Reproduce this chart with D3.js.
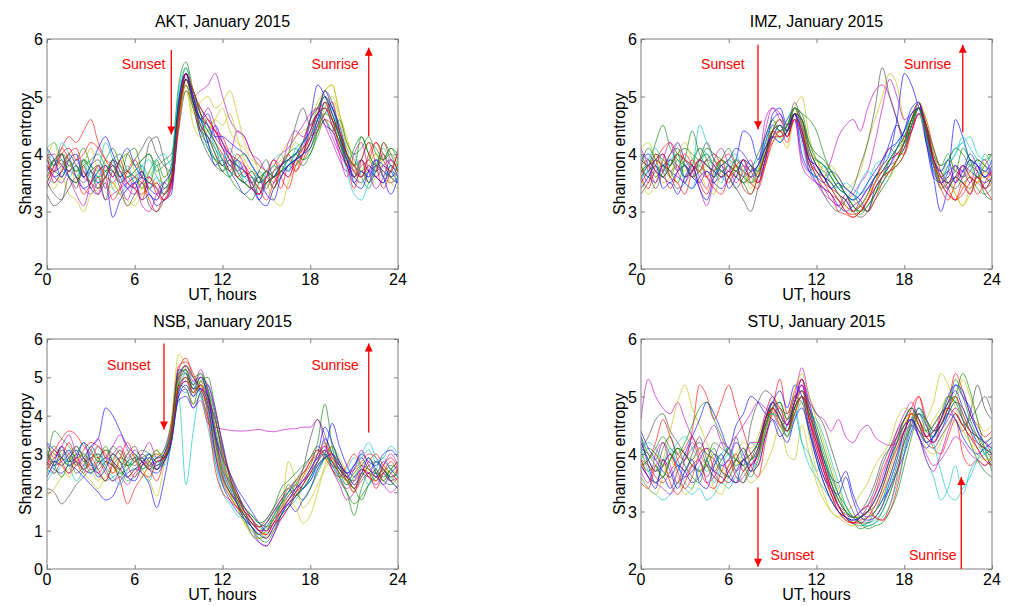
<!DOCTYPE html>
<html>
<head>
<meta charset="utf-8">
<script src="https://cdn.jsdelivr.net/npm/d3@7"></script>
<style>
  body { margin: 0; background: #fff; }
  svg { display: block; font-family: 'Liberation Sans', Arial, sans-serif; }
</style>
</head>
<body>
<svg id="chart" width="1010" height="606"></svg>
<script>
// sampling grid, every half hour from 0 to 24 UT
const hours = d3.range(0, 24.001, 0.5);
const xTicks = [0, 6, 12, 18, 24];
// MATLAB-like colour order b g r c m y k
const lineColors = ['#0000ff', '#008000', '#ff0000', '#00bfbf', '#bf00bf', '#bfbf00', '#404040'];

// Shannon entropy per day (49 values each)
const aktDays = [
  [3.9,3.7,3.8,4.0,3.8,3.6,3.7,3.5,3.6,3.8,3.6,3.4, 3.5,3.6,3.4,3.3,3.4,3.5,4.6,5.4,4.9,4.6,4.7,4.3, 4.1,3.8,3.9,3.7,3.5,3.6,3.4,3.7,3.8,3.7,3.9,4.0, 4.1,4.5,4.9,4.8,4.4,3.9,3.7,3.6,3.8,3.6,3.5,3.7,3.6],
  [3.7,3.9,4.0,3.8,3.9,4.1,3.8,3.6,3.7,3.9,4.0,3.7, 3.6,3.4,3.7,3.9,3.6,3.8,4.9,5.5,5.0,4.4,4.3,4.0, 3.7,3.9,3.6,3.5,3.4,3.3,3.5,3.6,3.8,3.9,3.8,4.0, 4.2,4.6,4.8,4.5,4.2,3.8,4.1,4.3,4.0,3.8,3.9,4.1,3.9],
  [3.6,3.8,4.1,4.3,4.2,4.4,4.6,4.2,3.9,3.7,3.5,3.6, 3.4,3.3,3.5,3.4,3.2,3.4,4.5,5.3,5.1,4.7,4.5,4.4, 4.2,4.0,3.9,3.8,3.6,3.4,3.2,3.5,3.7,3.6,3.9,4.1, 4.3,4.4,4.6,4.5,4.2,3.9,3.6,3.8,3.9,4.2,4.0,3.8,3.7],
  [4.1,4.2,3.9,3.7,3.9,3.8,3.6,3.5,3.7,3.4,3.3,3.5, 3.6,3.8,3.9,3.6,3.5,3.7,4.8,5.2,4.8,4.3,4.1,3.9, 4.0,3.8,3.7,3.6,3.7,3.5,3.6,3.8,3.7,3.9,4.0,4.2, 4.4,4.8,5.0,4.6,4.3,3.7,3.3,3.2,3.5,3.7,3.6,3.8,3.7],
  [3.8,3.6,3.5,3.7,3.6,3.4,3.3,3.5,3.2,3.3,3.4,3.5, 3.6,3.7,3.4,3.5,3.3,3.6,4.7,5.3,5.0,5.1,5.2,5.4, 5.0,4.6,4.4,4.3,4.0,3.9,3.7,3.8,4.0,4.1,4.3,4.5, 4.7,4.8,4.6,4.3,4.0,3.8,3.7,3.9,3.7,3.8,3.6,3.5,3.6],
  [3.5,3.4,3.6,3.3,3.2,3.0,3.3,3.4,3.6,3.5,3.3,3.1, 3.2,3.4,3.3,3.2,3.5,3.6,4.9,5.2,4.7,4.9,5.0,4.8, 4.9,5.1,4.7,4.2,4.0,3.7,3.5,3.2,3.1,3.5,3.8,4.2, 4.6,4.9,5.1,5.2,4.7,4.3,3.8,3.6,3.4,3.6,3.7,3.5,3.4],
  [3.3,3.1,3.2,3.4,3.6,3.5,3.7,3.8,3.6,3.9,3.8,3.7, 3.9,4.1,4.3,4.0,3.8,3.7,4.6,5.2,4.8,4.5,4.3,4.1, 3.8,3.9,3.8,3.6,3.7,3.5,3.6,3.7,3.8,3.9,4.0,4.1, 4.3,4.7,5.1,4.9,4.4,4.0,3.8,3.7,3.9,3.7,3.8,3.6,3.7],
  [3.7,3.9,3.8,3.6,3.5,3.7,3.4,3.3,3.5,2.9,3.2,3.4, 3.5,3.2,3.3,3.1,3.2,3.3,4.7,5.3,4.9,4.4,4.2,4.5, 4.2,3.9,3.8,3.7,3.5,3.2,3.1,3.4,3.6,3.8,3.9,4.0, 4.6,5.2,5.0,4.7,4.3,3.9,3.6,3.5,3.7,3.6,3.5,3.8,3.6],
  [3.9,3.8,4.0,3.9,3.7,3.8,3.9,4.0,3.8,3.7,3.9,4.0, 3.8,3.9,4.0,3.7,3.8,3.9,5.2,5.6,5.1,4.7,4.2,3.9, 3.7,3.6,3.9,4.0,3.8,3.6,3.7,3.6,3.8,4.0,4.1,3.9, 4.0,4.4,4.9,4.6,4.2,3.9,3.8,3.9,4.2,4.1,3.9,4.0,3.8],
  [3.8,3.7,4.0,4.1,3.9,4.0,4.2,4.1,3.9,3.8,3.6,3.7, 3.6,3.5,3.4,3.5,3.3,3.6,4.5,5.3,4.9,4.4,4.6,4.4, 4.3,4.0,3.8,3.7,3.6,3.4,3.5,3.6,3.4,3.8,3.7,3.9, 4.2,4.5,4.7,4.9,4.4,4.0,3.7,3.6,3.8,3.7,4.2,3.9,3.8],
  [3.6,3.5,3.7,3.6,3.8,3.9,3.7,3.6,3.8,3.7,3.5,3.6, 3.7,3.8,3.6,3.9,4.0,3.8,5.0,5.4,5.0,4.6,4.4,4.2, 3.9,4.1,3.8,3.6,3.5,3.7,3.6,3.8,3.7,3.8,4.0,4.2, 4.3,4.6,4.8,4.7,4.4,4.1,3.9,3.7,3.6,3.8,3.7,3.6,3.5],
  [3.9,4.0,3.8,3.7,3.9,3.6,3.5,3.4,3.6,3.5,3.7,3.4, 3.3,3.5,3.6,3.4,3.2,3.4,4.6,5.4,5.0,4.8,4.6,4.4, 4.2,4.0,4.4,4.3,4.0,3.8,3.7,3.5,3.7,3.6,3.9,4.1, 4.6,4.8,4.5,4.2,3.9,3.7,3.8,3.9,3.7,3.6,3.8,3.9,3.7],
  [3.7,3.9,3.8,4.0,3.8,3.7,3.5,3.6,3.4,3.5,3.3,3.2, 3.1,3.3,3.4,3.5,3.6,3.7,4.6,5.1,4.5,4.3,4.4,4.6, 4.8,4.4,4.2,4.1,3.9,3.8,3.7,3.8,4.0,4.2,4.3,4.4, 4.5,4.8,5.1,5.2,4.7,4.2,3.9,3.7,3.9,4.0,3.8,3.7,3.9],
  [4.0,3.8,3.9,3.7,3.8,3.6,3.8,3.9,3.7,3.8,3.6,3.7, 3.5,3.6,4.2,4.3,3.9,3.5,4.4,5.1,4.8,4.3,4.0,3.8, 3.7,3.8,3.6,3.5,3.6,3.5,3.7,3.6,3.7,3.8,3.9,4.2, 4.6,4.8,5.0,4.8,4.4,3.9,3.6,3.7,3.5,3.8,3.7,3.6,3.8],
  [3.8,3.6,3.7,3.9,3.6,3.4,3.5,3.7,3.8,3.6,3.9,4.1, 3.8,3.6,3.5,3.4,3.3,3.5,4.9,5.4,4.9,4.6,4.2,3.8, 3.9,3.7,3.5,3.3,3.4,3.2,3.5,3.6,3.8,3.9,4.0,4.2, 4.4,4.7,4.5,4.4,4.1,3.8,3.5,3.7,3.6,3.9,3.8,3.7,3.5],
  [3.5,3.7,3.6,3.8,3.7,3.9,3.8,3.7,3.9,4.1,3.8,3.6, 3.7,3.9,4.0,3.8,3.9,4.0,4.7,5.3,4.9,4.5,4.1,3.9, 3.8,3.7,3.6,3.5,3.4,3.6,3.5,3.6,3.7,3.8,3.9,3.8, 4.0,4.3,4.6,4.4,4.6,4.2,4.0,4.1,4.3,4.0,3.9,4.1,4.0],
  [3.5,3.8,4.1,3.9,3.6,3.3,3.5,3.8,3.6,3.2,3.4,3.7, 3.9,3.6,3.2,3.0,3.3,3.5,4.8,5.4,5.0,4.7,4.5,4.2, 4.0,3.7,4.0,3.8,3.4,3.3,3.6,3.4,3.8,4.0,3.7,4.0, 4.3,4.7,4.8,4.6,4.1,3.8,3.4,3.9,4.2,3.8,3.4,3.7,4.0],
  [4.1,3.8,4.2,4.0,3.6,3.9,3.5,3.7,4.2,3.9,3.5,3.8, 3.5,3.8,3.4,3.6,3.3,3.8,5.1,5.5,5.0,4.8,4.5,4.1, 3.9,3.6,3.9,3.5,3.6,3.3,3.7,3.9,4.0,3.7,4.1,4.2, 4.3,4.6,4.7,4.8,4.3,3.9,4.0,3.6,3.4,3.8,4.1,3.8,3.5],
  [3.4,3.7,4.0,3.6,3.3,3.1,3.5,3.8,3.4,3.9,3.5,3.2, 3.5,3.1,3.0,3.3,3.5,3.4,4.7,5.3,5.0,4.6,4.8,4.5, 4.1,4.0,3.7,3.8,3.4,3.3,3.6,3.9,3.8,4.2,4.4,4.3, 4.5,4.7,4.8,4.5,4.0,3.6,4.0,4.2,3.7,3.4,3.6,3.9,3.7],
  [3.9,4.2,3.7,3.9,3.5,3.8,4.1,3.7,3.5,3.4,3.8,4.0, 3.7,3.4,3.7,3.4,3.3,3.7,4.6,5.2,4.8,4.5,4.4,4.6, 4.5,4.7,4.3,3.9,3.7,3.6,3.4,3.7,3.9,4.0,4.2,4.1, 4.2,4.4,4.8,5.0,4.6,4.1,3.7,3.5,3.8,4.0,3.6,3.5,3.8],
  [3.5,3.3,3.2,3.6,3.4,3.8,3.4,3.6,3.2,3.7,3.4,3.1, 3.3,3.5,3.1,3.0,3.2,3.5,4.7,5.3,4.9,4.5,4.3,4.0, 3.8,4.0,3.7,3.5,3.4,3.7,3.9,3.6,3.8,4.0,4.5,4.8, 4.5,4.7,5.0,4.7,4.3,3.8,3.6,3.9,3.5,3.7,4.0,3.6,3.5],
  [4.1,3.9,3.6,3.9,4.0,3.6,3.8,4.1,4.3,4.0,3.7,3.5, 3.4,3.7,3.3,3.2,3.5,3.7,4.9,5.4,5.0,4.6,4.5,4.3, 4.3,4.2,4.1,4.0,3.8,3.6,3.3,3.2,3.6,3.8,3.9,4.0, 4.2,4.6,5.1,4.8,4.5,4.0,3.5,3.4,3.7,3.9,3.6,3.3,3.6],
  [3.6,3.9,4.0,3.6,3.5,3.9,3.7,3.4,3.6,3.9,3.6,4.0, 4.1,3.7,3.5,3.8,3.4,3.6,4.8,5.3,5.1,4.7,4.4,4.2, 3.9,3.6,3.4,3.3,3.2,3.5,3.7,3.4,3.7,3.9,4.0,3.9, 4.1,4.4,4.7,4.6,4.3,4.0,3.8,4.3,4.0,3.8,4.2,4.0,3.7],
  [4.0,3.5,3.7,4.0,4.1,3.7,3.5,3.3,3.8,3.6,3.9,3.5, 3.4,3.2,3.6,3.3,3.2,3.5,4.6,5.4,5.1,4.8,4.6,4.4, 4.1,3.9,3.6,3.7,3.5,3.3,3.6,3.9,3.6,3.4,3.8,4.0, 4.4,4.7,4.9,4.6,4.4,4.0,3.8,3.6,4.0,4.2,3.9,3.7,4.1]
];

const imzDays = [
  [3.9,4.0,3.8,3.7,3.9,3.8,3.6,3.7,3.9,3.8,3.7,3.6, 3.7,3.9,3.8,3.6,3.7,4.2,4.5,4.4,4.6,4.8,4.5,4.0, 3.7,3.6,3.5,3.3,3.2,3.0,3.1,3.3,3.6,3.8,4.2,4.5, 4.3,4.6,4.9,4.2,3.6,3.5,3.7,4.6,4.3,3.9,3.8,3.6,3.7],
  [3.7,3.8,4.2,4.5,4.1,3.9,3.8,3.7,3.9,4.0,3.8,3.7, 3.8,3.6,3.5,3.3,3.6,4.0,4.3,4.5,4.3,4.7,4.6,4.0, 3.9,3.8,3.6,3.4,3.3,3.1,3.0,3.2,3.4,3.6,3.7,3.8, 4.0,4.5,4.8,4.4,3.8,3.4,3.5,3.6,3.5,3.4,3.6,3.3,3.2],
  [3.6,3.8,3.9,4.1,4.2,4.0,3.9,3.8,3.7,3.9,4.0,3.8, 3.7,3.6,3.8,3.7,3.5,3.9,4.4,4.6,4.4,4.8,4.4,3.9, 3.6,3.4,3.3,3.0,2.95,2.9,3.0,3.2,3.5,3.7,3.9,4.0, 4.2,4.6,4.9,4.5,3.9,3.5,3.3,3.2,3.4,3.6,3.5,3.7,3.6],
  [3.8,3.7,3.9,4.0,3.8,4.2,3.9,3.8,4.5,4.2,3.9,3.8, 3.9,3.8,3.7,3.6,3.8,4.1,4.3,4.2,4.5,4.7,4.3,3.8, 3.9,3.8,3.7,3.5,3.3,3.2,3.3,3.4,3.6,3.7,3.9,4.1, 4.3,4.7,4.8,4.3,3.9,3.7,3.9,4.1,4.2,4.3,4.0,3.9,4.0],
  [3.5,3.7,3.9,3.8,4.0,4.2,3.9,3.7,3.4,3.1,3.5,3.6, 3.8,3.7,3.9,3.8,3.7,4.4,4.8,4.7,4.5,4.6,3.9,3.7, 3.8,3.6,3.9,4.3,4.5,4.6,4.4,4.8,5.1,5.2,5.0,4.6, 4.3,4.4,4.7,4.2,3.8,3.6,3.7,3.5,3.8,3.6,3.5,3.4,3.5],
  [4.1,4.2,3.9,3.8,3.7,3.9,3.8,3.6,3.7,3.8,3.9,3.7, 3.6,3.8,3.7,3.5,3.7,4.0,4.2,4.4,4.5,4.8,5.0,4.3, 3.9,3.7,3.8,3.6,3.4,3.5,3.7,4.2,4.6,5.0,5.4,5.2, 4.6,4.5,4.7,4.3,3.9,3.6,3.5,3.3,3.1,3.3,3.5,3.6,3.4],
  [3.3,3.5,3.7,3.8,3.6,3.4,3.5,3.7,3.8,3.6,3.5,3.7, 3.6,3.4,3.2,3.0,3.4,3.9,4.4,4.6,4.5,4.9,4.5,3.9, 3.6,3.3,3.1,3.0,3.2,3.4,3.8,4.2,4.8,5.5,5.0,4.6, 4.2,4.5,4.9,4.3,3.8,3.6,3.7,3.8,3.6,3.7,3.9,3.8,3.6],
  [3.7,3.6,3.5,3.8,3.7,3.6,3.5,3.4,3.6,3.7,3.5,3.4, 3.6,3.9,4.4,4.3,3.9,4.3,4.6,4.7,4.4,4.7,4.3,3.8, 3.5,3.4,3.3,3.1,3.0,3.1,3.2,3.4,3.6,3.8,4.0,4.6, 5.4,5.2,4.8,4.4,3.6,3.0,3.4,3.6,3.8,3.7,3.6,3.5,3.6],
  [3.9,3.8,4.0,3.9,3.8,4.0,4.1,4.0,3.9,4.1,4.0,3.9, 3.8,3.7,3.6,3.5,3.6,4.1,4.4,4.3,4.5,4.8,4.7,4.6, 4.4,4.0,3.7,3.5,3.4,3.3,3.1,3.0,3.2,3.4,3.6,3.9, 4.1,4.5,4.8,4.5,4.0,3.8,3.9,4.1,4.0,3.8,3.9,3.8,3.7],
  [3.8,3.9,3.7,3.6,3.8,4.0,3.9,3.8,3.7,3.6,3.8,3.9, 4.0,3.8,3.7,3.6,3.5,3.8,4.3,4.4,4.2,4.7,4.3,3.9, 3.8,3.6,3.4,3.2,3.0,2.95,3.0,3.2,3.5,3.9,4.1,4.0, 4.0,4.4,4.8,4.6,4.1,3.7,3.4,3.2,3.3,3.5,3.6,3.4,3.6],
  [3.6,3.7,3.8,3.6,3.9,4.0,3.8,3.9,4.1,4.0,3.8,3.7, 3.8,3.9,3.7,3.8,3.9,4.2,4.3,4.5,4.4,4.6,4.2,3.7, 3.6,3.7,3.5,3.4,3.5,3.4,3.3,3.5,3.8,3.9,4.0,4.2, 4.4,4.6,4.7,4.3,3.8,3.6,3.8,4.0,4.3,4.1,3.9,3.7,3.8],
  [3.9,3.8,3.9,4.0,3.7,3.8,3.6,3.7,3.9,3.8,3.7,3.6, 3.5,3.7,3.6,3.7,3.8,4.6,4.8,4.6,4.4,4.6,3.8,3.6, 3.5,3.4,3.2,3.1,3.2,3.3,3.5,3.7,4.2,4.8,5.3,5.0, 4.6,4.7,4.9,4.4,3.9,3.6,3.5,3.6,3.7,3.5,3.8,3.6,3.7],
  [3.6,3.9,3.7,3.5,3.6,3.8,3.7,3.9,3.8,3.7,3.6,3.8, 3.9,3.7,3.6,3.5,3.7,4.0,4.2,4.3,4.1,4.6,4.4,4.1, 3.8,3.6,3.7,3.5,3.3,3.2,3.1,3.3,3.5,3.8,3.9,4.1, 4.3,4.6,4.8,4.4,3.9,3.5,3.6,3.3,3.1,3.4,3.5,3.7,3.5],
  [3.7,3.8,3.6,3.8,3.9,3.7,3.8,3.6,3.7,3.9,3.8,3.6, 3.7,3.6,3.5,3.6,3.8,4.1,4.3,4.3,4.4,4.8,4.6,4.1, 3.8,3.6,3.4,3.2,3.1,3.0,3.1,3.3,3.6,3.7,3.9,4.0, 4.2,4.5,4.8,4.4,3.9,3.6,3.5,3.7,3.6,3.8,3.7,3.6,3.5],
  [4.0,3.9,3.7,3.6,3.5,3.7,3.8,3.6,3.5,3.7,3.6,3.8, 3.9,4.1,4.0,3.8,3.6,3.9,4.7,4.8,4.5,4.7,4.0,3.7, 3.6,3.5,3.7,3.6,3.4,3.3,3.2,3.0,3.4,3.6,3.8,4.1, 4.4,4.8,4.9,4.2,3.7,3.5,3.6,3.8,3.7,3.9,3.8,3.7,3.9],
  [3.8,3.6,3.9,3.8,3.7,3.5,3.9,4.4,4.0,3.8,3.7,3.9, 3.8,3.7,3.9,3.8,3.7,4.0,4.4,4.5,4.4,4.7,4.6,4.2, 4.0,3.9,3.7,3.5,3.3,3.1,2.95,3.1,3.3,3.5,3.7,3.9, 4.1,4.5,4.8,4.3,3.8,3.5,3.4,3.6,3.5,3.6,3.4,3.3,3.4],
  [3.8,3.5,4.0,3.7,3.4,3.7,4.0,3.8,3.5,3.3,3.7,3.9, 3.6,3.8,3.4,3.3,3.6,4.0,4.4,4.3,4.4,4.7,4.5,3.9, 3.7,3.5,3.4,3.3,3.1,3.0,3.1,3.0,3.2,3.5,3.7,3.9, 4.2,4.6,4.8,4.4,3.8,3.4,3.2,3.5,3.8,3.6,3.3,3.5,3.7],
  [3.5,3.9,4.1,3.8,3.6,3.9,3.5,3.4,3.8,4.0,3.7,3.5, 3.9,4.0,3.6,3.5,3.8,4.2,4.5,4.4,4.6,4.8,4.4,3.8, 3.6,3.8,3.6,3.4,3.3,3.2,3.5,3.7,3.6,3.5,3.9,4.1, 4.2,4.5,4.8,4.3,3.8,3.5,3.8,4.0,4.2,3.8,3.6,4.0,3.8],
  [4.1,3.8,3.5,3.9,4.2,3.7,3.5,3.9,3.6,3.4,3.9,4.1, 3.8,3.5,3.7,3.9,3.5,3.9,4.3,4.5,4.3,4.6,4.3,3.7, 3.5,3.3,3.2,3.1,3.3,3.0,3.2,3.4,3.5,3.7,3.8,4.0, 4.1,4.4,4.7,4.5,4.0,3.6,3.4,3.8,3.5,3.3,3.7,3.9,3.6],
  [3.6,3.3,3.5,3.9,3.6,4.0,4.2,3.9,3.7,3.4,3.3,3.7, 3.5,3.9,3.7,3.4,3.7,4.1,4.5,4.6,4.5,4.8,4.5,4.0, 3.9,3.7,3.5,3.3,3.1,3.0,3.1,3.3,3.5,3.7,3.6,3.9, 4.3,4.6,4.9,4.6,4.0,3.6,3.9,3.7,3.4,3.7,3.5,3.9,4.0],
  [4.0,3.7,3.4,3.7,4.0,4.1,3.8,3.6,3.9,4.2,3.9,3.7, 3.6,3.4,3.6,3.8,3.6,4.0,4.4,4.5,4.3,4.7,4.6,4.1, 3.8,3.6,3.5,3.3,3.2,3.0,2.9,3.0,3.3,3.6,3.8,3.9, 4.2,4.6,4.8,4.4,3.9,3.7,3.5,3.4,3.6,3.9,3.7,3.4,3.6],
  [3.4,3.6,3.8,3.4,3.5,3.3,3.6,3.8,3.4,3.2,3.6,3.8, 3.4,3.6,3.9,3.7,3.8,4.1,4.3,4.2,4.4,4.7,4.4,3.9, 3.8,3.6,3.4,3.5,3.3,3.2,3.3,3.5,3.7,3.9,4.1,4.2, 4.4,4.7,4.8,4.5,3.9,3.7,3.9,3.5,3.7,4.0,3.8,3.6,3.8],
  [3.8,4.1,3.9,3.6,3.8,4.0,3.6,3.8,4.1,3.9,3.6,3.9, 4.1,3.8,3.5,3.7,4.0,4.3,4.6,4.4,4.5,4.8,4.7,4.2, 3.9,3.8,3.6,3.4,3.3,3.1,3.0,3.1,3.3,3.6,3.9,4.1, 4.3,4.6,4.8,4.5,4.1,3.8,4.0,3.7,4.1,3.9,3.6,3.8,4.0],
  [3.6,3.4,3.8,4.0,3.6,3.5,3.3,3.7,3.9,3.6,3.4,3.3, 3.6,3.8,3.9,3.5,3.4,3.8,4.2,4.4,4.3,4.6,4.4,3.8, 3.7,3.5,3.3,3.2,3.0,2.9,3.0,3.2,3.4,3.6,3.7,3.8, 4.0,4.4,4.7,4.5,3.9,3.5,3.3,3.2,3.5,3.3,3.6,3.4,3.2]
];

const nsbDays = [
  [3.0,2.8,2.9,3.1,2.7,2.9,3.2,3.4,4.2,4.0,3.6,3.2, 3.0,2.8,2.6,2.5,2.8,3.5,4.6,4.9,4.7,4.8,4.5,3.4, 2.6,2.1,1.7,1.4,1.1,0.9,1.2,1.5,1.8,2.0,2.2,2.1, 2.4,2.8,3.4,3.0,2.6,2.4,2.7,2.9,2.6,2.5,2.8,2.6,2.4],
  [2.7,3.6,3.4,3.2,2.9,3.0,2.8,2.6,2.8,2.7,2.5,2.6, 2.8,2.9,2.7,2.6,3.0,3.4,5.0,5.1,4.6,5.0,4.7,3.7, 2.8,2.2,1.8,1.5,1.3,1.1,1.0,1.4,1.7,1.9,2.2,2.5, 2.7,3.3,4.3,3.2,2.4,2.0,1.4,2.1,2.5,2.3,2.6,2.4,2.5],
  [2.9,3.1,3.4,3.6,3.5,3.2,3.0,2.9,3.1,2.8,2.6,2.4, 2.6,2.7,2.9,3.0,2.9,3.6,5.2,5.5,5.0,4.7,4.2,3.1, 2.4,2.0,1.8,1.6,1.3,1.0,0.8,1.1,1.5,1.7,2.0,2.4, 2.8,3.0,3.3,2.9,2.7,2.5,2.6,2.8,3.0,2.9,2.6,2.4,2.6],
  [2.6,2.5,2.7,2.9,3.1,3.0,2.8,2.5,2.3,2.4,2.5,2.3, 2.4,2.6,2.7,2.9,3.1,3.8,4.5,2.2,3.6,4.6,3.7,2.8, 2.2,1.9,1.6,1.3,1.0,0.8,0.9,1.2,1.4,1.6,1.8,2.1, 2.3,2.6,2.9,3.1,2.8,2.5,2.7,3.0,3.3,2.9,2.6,2.4,2.5],
  [2.6,2.8,2.7,2.5,2.7,2.9,2.6,2.8,2.5,2.3,2.4,2.2, 2.5,2.7,2.8,2.6,2.9,3.5,4.5,4.7,4.2,4.4,3.8,3.7, 3.65,3.62,3.6,3.6,3.62,3.64,3.6,3.58,3.62,3.65,3.66,3.7, 3.7,3.9,3.3,2.8,2.4,2.1,2.3,2.6,2.4,2.2,2.5,2.3,2.4],
  [1.9,2.1,2.4,2.6,2.8,2.5,2.3,2.1,2.4,2.6,2.8,3.1, 2.9,2.6,2.3,1.9,2.7,3.9,5.6,5.2,4.3,4.5,3.9,3.8, 3.0,2.0,1.6,1.2,0.9,0.8,0.85,1.0,1.4,2.8,2.3,1.6, 1.8,2.2,2.6,2.9,2.7,2.3,2.0,2.4,2.7,2.5,2.3,2.6,2.4],
  [2.1,2.0,1.7,1.9,2.2,2.4,2.6,2.5,2.3,2.7,2.9,2.8, 2.7,2.9,3.0,2.8,2.9,3.3,4.8,5.0,4.5,4.9,4.6,3.6, 2.5,2.0,1.7,1.3,1.1,0.9,1.0,1.3,1.6,1.8,2.1,2.6, 3.4,3.9,3.5,3.0,2.7,2.4,2.3,2.5,2.4,2.6,2.3,2.2,2.4],
  [2.8,2.6,2.5,2.7,2.6,2.4,2.2,2.0,1.8,1.9,2.3,2.5, 2.6,2.5,2.2,1.6,2.3,3.3,4.4,4.5,4.2,4.6,4.8,4.1, 3.3,2.4,1.7,1.3,0.9,0.7,0.6,0.9,1.4,1.7,1.5,1.8, 2.1,2.6,3.0,3.8,3.2,2.7,2.4,2.6,2.5,2.8,2.6,2.3,2.1],
  [3.2,3.0,2.9,2.8,3.0,2.9,2.7,2.9,3.1,3.0,2.8,2.7, 2.9,3.1,3.0,2.8,3.0,3.7,5.1,5.3,5.0,5.1,4.4,3.4, 2.6,2.3,2.0,1.6,1.4,1.2,1.3,1.6,2.1,2.3,2.5,2.7, 2.9,3.1,3.0,2.6,2.3,2.0,1.7,1.9,2.2,2.4,2.6,2.3,2.1],
  [2.7,2.9,3.2,3.0,2.8,3.1,3.3,3.2,3.0,2.7,2.3,1.7, 2.1,2.4,2.7,2.9,3.1,3.8,5.3,5.4,5.1,4.6,3.9,3.0, 2.3,1.9,1.6,1.4,1.2,1.0,0.9,1.2,1.3,1.6,1.9,2.2, 2.6,2.9,3.2,3.0,2.8,2.4,2.1,2.5,2.8,3.0,2.7,2.5,2.3],
  [2.5,2.7,2.9,3.1,2.8,2.6,2.9,3.0,2.7,2.9,3.1,2.8, 2.6,2.8,3.0,2.9,3.1,3.6,4.7,4.6,4.9,4.5,4.0,3.2, 2.5,2.1,1.9,1.6,1.3,1.1,1.2,1.5,1.7,2.0,2.3,2.1, 2.4,2.8,3.1,2.7,2.4,2.2,2.6,2.9,3.1,2.8,2.9,3.2,3.0],
  [2.9,2.7,2.8,3.0,3.2,2.9,2.7,2.5,2.8,3.0,3.2,2.9, 3.1,2.9,2.7,2.8,2.9,3.5,4.6,5.0,4.8,5.2,4.6,3.5, 2.7,2.2,1.9,1.5,1.1,0.7,0.6,0.9,1.3,1.6,2.0,2.3, 2.5,3.0,3.2,2.6,2.2,1.8,2.0,2.3,2.5,2.4,2.2,2.0,2.2],
  [2.8,3.0,3.1,2.9,2.7,2.8,3.0,2.8,2.6,2.5,2.7,3.0, 2.8,2.7,2.9,3.1,2.8,3.7,5.0,5.2,4.7,4.9,4.3,3.3, 2.6,2.3,1.8,1.3,0.9,0.8,1.0,1.2,1.5,1.8,1.6,1.2, 1.4,2.0,2.7,3.2,2.9,2.5,2.2,2.4,2.6,2.5,2.7,2.5,2.6],
  [2.6,2.8,2.7,2.9,3.1,2.8,2.9,3.0,2.8,2.7,2.6,2.8, 2.9,2.8,2.6,2.7,2.8,3.4,4.9,5.3,5.0,4.7,4.2,3.3, 2.4,2.0,1.7,1.4,1.2,1.0,1.1,1.4,1.7,2.0,2.3,2.6, 2.9,3.2,3.0,2.8,2.6,2.3,2.5,2.7,2.6,2.4,2.5,2.7,2.6],
  [3.3,3.1,2.9,2.7,2.8,2.6,2.5,2.7,2.9,2.8,2.6,2.4, 2.6,2.8,2.9,2.7,3.0,3.6,5.2,5.1,4.7,5.0,4.5,3.5, 2.9,2.5,2.1,1.8,1.5,1.2,1.0,1.3,1.5,1.8,2.1,2.3, 2.6,3.0,3.7,3.3,2.8,2.5,2.7,3.0,2.8,2.7,3.0,3.1,2.9],
  [3.0,3.2,2.9,2.7,3.0,3.3,3.1,2.8,2.9,3.2,3.0,2.7, 2.8,3.0,2.8,2.6,2.9,3.5,4.8,4.7,4.3,4.9,5.0,4.2, 3.2,2.4,1.9,1.6,1.4,1.2,1.1,1.3,1.7,2.2,2.0,1.8, 2.1,2.5,2.9,3.2,2.7,2.3,2.1,1.8,2.2,2.5,2.4,2.6,2.8],
  [2.8,2.5,2.9,3.3,2.8,2.5,2.9,2.6,2.3,2.8,3.1,2.7, 2.4,2.8,2.6,2.3,2.8,3.4,4.7,5.0,4.6,4.8,4.4,3.9, 3.0,2.4,1.9,1.5,1.2,1.0,0.9,1.2,1.5,1.8,2.0,2.2, 2.5,2.8,3.1,2.8,2.5,2.3,2.0,2.6,2.5,2.1,2.5,2.8,2.5],
  [2.3,2.6,3.0,2.7,2.3,2.6,3.0,3.2,2.7,2.4,2.2,2.6, 2.9,2.5,2.3,2.8,2.7,3.3,4.6,5.1,4.8,4.6,4.1,2.8, 2.0,1.7,1.4,1.3,1.1,0.9,1.1,1.4,1.8,2.0,2.1,2.3, 2.6,2.9,3.0,2.7,2.4,2.6,2.9,2.6,2.2,2.6,2.9,2.6,2.4],
  [3.3,2.9,3.2,3.5,3.0,2.7,3.1,3.4,2.9,3.2,3.5,3.1, 2.8,3.0,3.3,2.9,3.0,3.6,5.0,5.3,4.9,5.0,4.8,4.2, 3.2,2.5,2.0,1.6,1.3,1.0,1.0,1.2,1.6,1.9,2.1,2.3, 2.6,2.9,3.1,2.9,2.6,2.4,2.6,3.1,2.7,2.4,2.7,3.0,2.7],
  [2.5,2.9,2.7,2.4,2.8,3.0,2.6,2.3,2.7,3.0,2.6,2.3, 2.6,2.4,2.8,3.0,3.0,3.5,4.9,5.0,4.6,4.9,4.3,3.2, 2.3,1.9,1.6,1.2,1.0,0.9,1.0,1.3,1.6,1.9,2.2,2.4, 2.7,3.0,3.3,2.9,2.5,2.3,2.5,2.8,2.6,2.3,2.6,2.4,2.2],
  [3.0,2.7,3.1,2.9,2.5,2.7,3.2,2.9,2.6,2.3,2.6,3.0, 3.2,2.8,2.6,2.9,2.9,3.4,4.8,5.2,4.7,4.7,4.5,3.9, 3.1,2.5,2.0,1.5,1.2,1.1,1.3,1.6,1.9,2.1,1.9,2.2, 2.5,2.8,3.0,2.7,2.6,2.4,2.1,2.4,2.7,2.8,2.5,2.3,2.6],
  [2.4,2.8,3.2,2.8,2.9,3.3,2.8,2.4,2.6,3.0,2.8,2.4, 2.3,2.7,3.0,2.6,2.8,3.3,4.5,4.8,4.5,4.7,4.3,3.0, 2.2,1.8,1.5,1.3,1.1,0.9,0.8,1.1,1.4,1.7,1.9,2.1, 2.3,2.7,2.9,3.0,2.7,2.5,2.2,2.5,2.9,2.5,2.2,2.5,2.7],
  [3.1,2.7,2.4,2.8,3.2,2.9,2.5,2.8,3.2,2.8,2.4,2.8, 3.0,2.6,2.8,3.1,2.9,3.5,5.1,5.2,4.8,5.1,4.7,4.0, 2.9,2.3,1.8,1.4,1.1,0.8,0.7,1.0,1.4,1.6,1.9,2.1, 2.4,2.7,2.9,2.8,2.5,2.2,2.4,2.7,2.9,2.6,2.3,2.6,2.8],
  [2.7,3.1,2.8,2.5,2.9,2.6,2.8,3.2,2.9,2.5,2.9,3.3, 2.9,2.5,2.4,2.8,2.9,3.4,4.7,4.9,4.6,4.8,4.0,2.6, 2.0,1.8,1.6,1.5,1.3,1.1,1.2,1.5,1.8,2.1,2.3,2.5, 2.8,3.1,2.9,2.6,2.4,2.7,3.0,2.7,2.4,2.3,2.7,2.9,2.6]
];

const stuDays = [
  [4.2,3.9,3.7,3.8,4.0,3.8,3.6,3.7,3.9,4.1,4.0,3.8, 3.9,4.2,4.0,3.7,4.1,4.6,4.9,4.6,4.4,4.9,5.2,4.6, 4.2,3.8,3.4,3.1,2.9,2.8,2.9,3.0,3.2,3.5,3.9,4.3, 4.6,4.8,4.6,4.3,4.4,4.6,4.9,5.1,4.8,4.5,4.2,4.1,4.0],
  [3.9,4.1,4.0,3.8,3.9,4.1,4.0,3.8,3.7,3.8,4.0,3.9, 4.1,3.9,3.8,3.9,4.0,4.4,4.8,4.9,4.6,5.0,5.1,4.7, 4.3,3.9,3.5,3.1,2.9,2.8,2.75,2.8,3.0,3.2,3.6,4.0, 4.4,4.7,4.5,4.2,4.3,4.5,4.8,5.3,5.0,4.6,4.3,4.0,3.8],
  [3.8,3.9,4.2,4.6,4.3,4.0,3.9,4.4,5.2,5.0,4.6,4.9, 5.2,4.8,4.4,4.0,3.8,4.3,4.7,4.8,4.5,4.9,5.3,4.8, 4.3,3.8,3.5,3.2,3.0,2.9,3.0,3.1,2.9,2.85,3.0,3.4, 4.0,4.6,5.0,4.5,4.3,4.7,4.9,5.4,5.1,4.7,4.5,4.3,4.4],
  [3.6,3.4,3.3,3.2,3.3,3.5,3.4,3.3,3.4,3.2,3.3,3.5, 3.4,3.6,3.5,3.7,3.9,4.4,4.7,4.5,4.3,4.8,4.2,3.8, 3.6,3.4,3.2,3.0,2.9,2.8,2.9,2.8,2.85,3.0,3.3,3.7, 4.1,4.5,4.3,3.9,3.6,3.2,3.4,3.8,3.3,3.7,3.9,4.0,4.1],
  [4.6,5.3,5.0,4.8,4.7,4.9,4.6,4.3,4.1,4.3,4.5,4.2, 4.0,4.3,4.5,4.7,4.9,4.8,4.7,4.5,4.6,5.0,5.5,5.0, 4.7,4.6,4.4,4.6,4.3,4.2,4.4,4.5,4.3,4.2,4.15,4.2, 4.4,4.5,4.3,4.0,3.8,3.9,4.1,4.3,4.2,4.0,3.9,3.8,3.9],
  [4.0,3.8,3.7,3.9,4.4,4.9,5.2,4.8,4.5,4.2,3.9,3.7, 3.8,3.9,3.7,3.5,3.6,3.8,4.1,4.5,4.0,3.9,4.5,4.0, 3.5,3.2,3.0,2.9,3.0,3.1,3.3,3.5,3.8,4.0,4.2,4.6, 4.8,4.7,4.4,4.6,4.9,5.4,5.2,4.8,4.5,4.3,4.1,4.2,4.3],
  [4.1,4.3,4.6,4.7,4.4,4.2,4.0,3.9,4.1,3.8,3.6,3.5, 3.7,3.9,3.8,4.5,4.9,5.1,5.0,4.8,4.7,5.0,4.9,4.4, 4.0,3.6,3.3,3.1,3.0,2.9,3.0,3.2,3.5,3.9,4.1,4.3, 4.5,4.6,4.4,4.3,4.5,4.7,4.8,4.6,4.4,4.7,5.2,4.8,4.6],
  [4.3,3.8,3.5,3.6,3.4,3.7,4.0,4.3,4.6,4.9,4.7,4.4, 4.1,4.5,4.7,5.0,4.9,4.7,4.6,4.3,4.5,4.9,5.3,4.9, 4.4,3.9,3.6,3.5,3.7,3.3,3.0,2.9,3.0,3.2,3.4,3.7, 4.0,4.4,4.7,4.5,4.2,4.4,4.7,5.2,5.0,4.8,4.4,4.2,4.3],
  [3.9,3.7,3.8,3.6,3.9,4.1,4.0,3.8,3.7,3.9,4.2,4.1, 4.0,3.9,3.8,3.6,3.9,4.4,4.9,4.7,4.4,4.8,5.0,4.8, 4.5,4.1,3.7,3.3,3.0,2.8,2.7,2.75,2.8,3.0,3.3,3.7, 4.2,4.6,4.7,4.4,4.3,4.6,4.9,5.0,4.6,4.2,3.9,3.7,3.6],
  [3.9,3.8,3.6,3.5,3.7,3.9,4.1,4.3,4.0,3.8,3.6,3.5, 3.7,3.9,4.1,3.8,3.6,4.2,4.8,5.3,4.7,5.1,5.3,4.6, 4.1,3.7,3.3,3.0,2.85,2.8,2.9,3.0,2.9,2.85,3.1,3.6, 4.3,4.8,5.0,4.6,4.1,4.0,4.3,4.6,4.0,3.8,3.9,3.8,4.0],
  [4.0,4.2,4.1,3.9,4.0,4.2,4.3,4.1,3.9,3.7,3.8,4.0, 4.1,3.9,4.0,4.2,4.1,4.5,4.7,4.6,4.3,4.7,4.2,4.0, 3.7,3.9,3.5,3.2,3.0,2.9,2.8,2.75,2.8,2.9,3.1,3.5, 4.0,4.5,4.8,4.6,4.2,3.7,3.3,3.2,3.4,3.6,3.9,4.1,4.0],
  [3.8,3.6,3.5,3.4,3.3,3.5,3.6,3.8,3.7,3.5,3.6,3.8, 3.7,3.5,3.6,3.8,4.0,4.6,4.9,4.8,4.5,4.9,5.2,4.7, 4.2,3.7,3.4,3.1,2.9,2.8,2.85,2.9,3.0,3.3,3.6,4.0, 4.4,4.6,4.3,3.9,3.7,4.0,4.4,4.7,4.5,4.3,4.1,3.9,3.8],
  [3.7,3.9,4.0,3.8,3.6,3.5,3.7,3.9,4.1,4.0,3.8,3.6, 3.8,4.0,4.2,4.1,4.3,4.7,5.0,4.8,4.6,5.1,5.4,5.0, 4.6,4.2,3.8,3.4,3.1,2.9,2.9,3.0,3.2,3.5,3.9,4.2, 4.5,4.7,4.5,4.4,4.6,4.8,5.0,4.9,5.3,5.0,4.6,4.4,4.5],
  [4.1,4.0,3.9,4.2,4.0,3.8,3.9,4.1,4.2,4.0,3.9,3.7, 3.6,3.5,3.7,3.9,4.2,4.6,4.8,4.6,4.3,4.7,5.0,4.4, 3.9,3.5,3.2,3.0,2.9,2.85,2.9,3.1,3.4,3.8,4.1,4.4, 4.6,4.8,4.5,4.2,4.1,4.3,4.5,4.7,4.5,4.6,4.8,5.0,4.7],
  [4.4,4.1,3.9,3.7,3.6,3.8,3.7,3.5,3.6,3.8,3.7,3.6, 3.5,3.7,3.9,3.8,4.0,4.6,4.9,5.1,4.8,5.2,5.0,4.5, 4.0,3.6,3.4,3.3,3.6,3.2,2.9,2.85,2.9,3.1,3.5,3.9, 4.4,4.6,4.3,4.1,4.3,4.6,5.0,5.2,5.1,4.7,4.4,4.2,4.1],
  [3.8,3.9,4.1,4.3,4.1,4.0,4.2,4.5,4.8,4.9,4.6,4.3, 4.0,3.8,3.9,4.0,4.2,4.5,4.8,4.9,4.6,4.8,5.0,4.8, 4.4,4.0,3.6,3.3,3.1,2.9,2.8,2.7,2.75,2.8,3.0,3.3, 3.8,4.3,4.7,4.6,4.4,4.5,4.8,5.0,5.4,5.1,4.6,4.1,3.7],
  [3.9,3.6,3.5,3.8,4.0,3.7,3.4,3.6,4.0,4.1,3.7,3.5, 3.8,4.0,3.7,3.9,4.1,4.6,4.8,4.5,4.4,4.8,5.1,4.6, 4.1,3.7,3.3,3.0,2.85,2.8,2.9,3.0,3.3,3.7,4.0,4.3, 4.6,4.7,4.5,4.3,4.4,4.6,4.8,4.7,4.5,4.3,4.2,4.1,4.0],
  [4.1,3.7,3.5,3.8,4.1,3.8,3.5,3.4,3.8,3.9,3.5,3.8, 4.0,3.7,3.5,3.9,4.0,4.5,4.7,4.6,4.3,4.6,4.9,4.7, 4.6,4.3,3.9,3.5,3.1,2.9,2.8,2.9,3.0,3.2,3.5,3.9, 4.3,4.6,4.8,4.5,4.3,4.4,4.7,4.9,4.7,4.4,4.2,4.0,4.1],
  [3.7,3.5,4.0,4.2,3.8,3.5,3.9,4.2,3.9,3.6,3.9,4.2, 4.1,3.7,3.9,4.2,4.2,4.7,5.0,4.7,4.5,4.9,5.2,4.8, 4.3,3.8,3.4,3.1,2.95,2.9,3.0,3.1,3.3,3.6,4.0,4.4, 4.7,4.9,4.6,4.3,4.2,4.4,4.6,4.8,4.6,4.4,4.3,4.2,4.1],
  [3.6,3.4,3.3,3.6,3.9,3.6,3.3,3.4,3.7,3.8,3.4,3.3, 3.6,3.8,3.9,3.7,3.9,4.4,4.7,4.5,4.3,4.7,4.9,4.3, 3.7,3.3,3.0,2.9,2.8,2.75,2.85,2.9,3.0,3.3,3.7,4.1, 4.5,4.7,4.4,4.1,4.0,4.2,4.5,4.6,4.4,4.2,4.0,3.9,3.9],
  [4.2,3.9,3.7,4.1,4.3,3.9,3.7,4.0,4.3,3.9,3.7,3.9, 4.1,4.3,3.9,4.0,4.2,4.6,4.9,4.7,4.5,4.9,5.1,4.9, 4.7,4.5,4.1,3.7,3.3,3.0,2.8,2.8,2.9,3.1,3.4,3.8, 4.2,4.5,4.8,4.6,4.4,4.5,4.7,4.9,4.8,4.5,4.3,4.2,4.0],
  [3.8,3.6,3.4,3.9,3.7,3.4,3.7,3.9,3.5,3.4,3.8,4.0, 3.6,3.5,3.9,3.7,3.8,4.3,4.6,4.4,4.2,4.6,4.8,4.4, 3.9,3.5,3.2,3.0,2.9,2.85,2.9,3.0,3.2,3.5,3.9,4.2, 4.5,4.6,4.4,4.2,4.3,4.5,4.7,4.6,4.3,4.1,4.0,4.1,4.2],
  [4.3,4.0,3.8,3.6,3.9,4.1,3.8,3.6,3.5,3.9,4.1,3.7, 3.6,3.9,4.1,3.9,4.1,4.5,4.8,4.6,4.4,4.8,5.0,4.7, 4.3,3.9,3.5,3.2,3.0,2.9,2.9,3.0,3.1,3.4,3.8,4.2, 4.6,4.8,4.6,4.4,4.5,4.7,5.0,4.9,4.6,4.4,4.3,4.1,3.9],
  [3.5,3.4,3.8,3.9,3.5,3.3,3.5,3.8,3.9,3.5,3.4,3.7, 3.9,3.6,3.5,3.8,4.0,4.5,4.8,4.6,4.4,4.7,5.0,4.6, 4.2,3.8,3.4,3.1,2.9,2.8,2.8,2.9,3.1,3.4,3.8,4.1, 4.4,4.7,4.6,4.3,4.2,4.5,4.8,5.0,4.7,4.4,4.1,3.9,3.8]
];

// panel layout and annotations (annotation coordinates in data units)
const panels = [
  { title: 'AKT, January 2015', days: aktDays, left: 47, top: 39, yMin: 2, yMax: 6,
    arrows: [{ x: 8.5, y1: 5.81, y2: 4.34 }, { x: 22, y1: 4.31, y2: 5.85 }],
    labels: [{ text: 'Sunset', x: 6.6, y: 5.47 }, { text: 'Sunrise', x: 19.7, y: 5.47 }] },
  { title: 'IMZ, January 2015', days: imzDays, left: 641, top: 39, yMin: 2, yMax: 6,
    arrows: [{ x: 8, y1: 5.9, y2: 4.43 }, { x: 22, y1: 4.38, y2: 5.9 }],
    labels: [{ text: 'Sunset', x: 5.6, y: 5.47 }, { text: 'Sunrise', x: 19.6, y: 5.47 }] },
  { title: 'NSB, January 2015', days: nsbDays, left: 47, top: 339, yMin: 0, yMax: 6,
    arrows: [{ x: 8, y1: 5.88, y2: 3.64 }, { x: 22, y1: 3.56, y2: 5.88 }],
    labels: [{ text: 'Sunset', x: 5.6, y: 5.18 }, { text: 'Sunrise', x: 19.7, y: 5.18 }] },
  { title: 'STU, January 2015', days: stuDays, left: 641, top: 339, yMin: 2, yMax: 6,
    arrows: [{ x: 8, y1: 3.42, y2: 2.04 }, { x: 21.9, y1: 2.0, y2: 3.6 }],
    labels: [{ text: 'Sunset', x: 10.35, y: 2.16 }, { text: 'Sunrise', x: 19.95, y: 2.16 }] }
];

const svg = d3.select('#chart');
const W = 351, H = 230;
const axisGray = '#7f7f7f';

svg.append('defs').append('marker')
    .attr('id', 'head')
    .attr('viewBox', '0 0 10 10')
    .attr('refX', 10).attr('refY', 5)
    .attr('markerWidth', 10).attr('markerHeight', 8)
    .attr('markerUnits', 'userSpaceOnUse')
    .attr('orient', 'auto')
  .append('path')
    .attr('d', 'M0,0 L10,5 L0,10 Z')
    .attr('fill', '#ff0000');

panels.forEach((p, pi) => {
  const g = svg.append('g').attr('transform', `translate(${p.left},${p.top})`);
  const x = d3.scaleLinear().domain([0, 24]).range([0, W]);
  const y = d3.scaleLinear().domain([p.yMin, p.yMax]).range([H, 0]);
  const yTicks = d3.range(p.yMin, p.yMax + 1);

  g.append('clipPath').attr('id', 'clip' + pi)
    .append('rect').attr('width', W).attr('height', H);

  const line = d3.line()
      .x((d, i) => x(hours[i]))
      .y(d => y(d))
      .curve(d3.curveMonotoneX);

  g.append('g').attr('clip-path', `url(#clip${pi})`)
    .selectAll('path')
    .data(p.days)
    .join('path')
      .attr('d', line)
      .attr('fill', 'none')
      .attr('stroke', (d, i) => lineColors[i % lineColors.length])
      .attr('stroke-width', 0.7)
      .attr('stroke-opacity', 0.9);

  // box with inward ticks on all four sides
  g.append('rect').attr('width', W).attr('height', H)
    .attr('fill', 'none').attr('stroke', axisGray).attr('stroke-width', 1);

  const bottom = d3.axisBottom(x).tickValues(xTicks).tickSize(-4).tickFormat('');
  const top = d3.axisTop(x).tickValues(xTicks).tickSize(-4).tickFormat('');
  const leftAx = d3.axisLeft(y).tickValues(yTicks).tickSize(-4).tickFormat('');
  const rightAx = d3.axisRight(y).tickValues(yTicks).tickSize(-4).tickFormat('');
  [[bottom, `translate(0,${H})`], [top, null], [leftAx, null], [rightAx, `translate(${W},0)`]]
    .forEach(([ax, tr]) => {
      const a = g.append('g').call(ax);
      if (tr) a.attr('transform', tr);
      a.select('.domain').remove();
      a.selectAll('line').attr('stroke', axisGray);
    });

  // tick labels
  g.selectAll('.xl').data(xTicks).join('text')
    .attr('x', d => x(d)).attr('y', H + 16)
    .attr('text-anchor', 'middle').attr('font-size', 16).attr('fill', '#000')
    .text(d => d);
  g.selectAll('.yl').data(yTicks).join('text')
    .attr('x', -4).attr('y', d => y(d) + 6)
    .attr('text-anchor', 'end').attr('font-size', 16).attr('fill', '#000')
    .text(d => d);

  g.append('text').attr('x', W / 2).attr('y', -12)
    .attr('text-anchor', 'middle').attr('font-size', 16)
    .text(p.title);
  g.append('text').attr('x', W / 2).attr('y', H + 31)
    .attr('text-anchor', 'middle').attr('font-size', 16)
    .text('UT, hours');
  g.append('text')
    .attr('transform', `translate(-16,${H / 2}) rotate(-90)`)
    .attr('text-anchor', 'middle').attr('font-size', 16)
    .text('Shannon entropy');

  // sunset / sunrise annotations
  g.selectAll('.arrow').data(p.arrows).join('line')
    .attr('x1', d => x(d.x)).attr('x2', d => x(d.x))
    .attr('y1', d => y(d.y1)).attr('y2', d => y(d.y2))
    .attr('stroke', '#ff0000').attr('stroke-width', 1.3)
    .attr('marker-end', 'url(#head)');
  g.selectAll('.note').data(p.labels).join('text')
    .attr('x', d => x(d.x)).attr('y', d => y(d.y))
    .attr('text-anchor', 'middle').attr('font-size', 14).attr('fill', '#ff0000')
    .text(d => d.text);
});
</script>
</body>
</html>
